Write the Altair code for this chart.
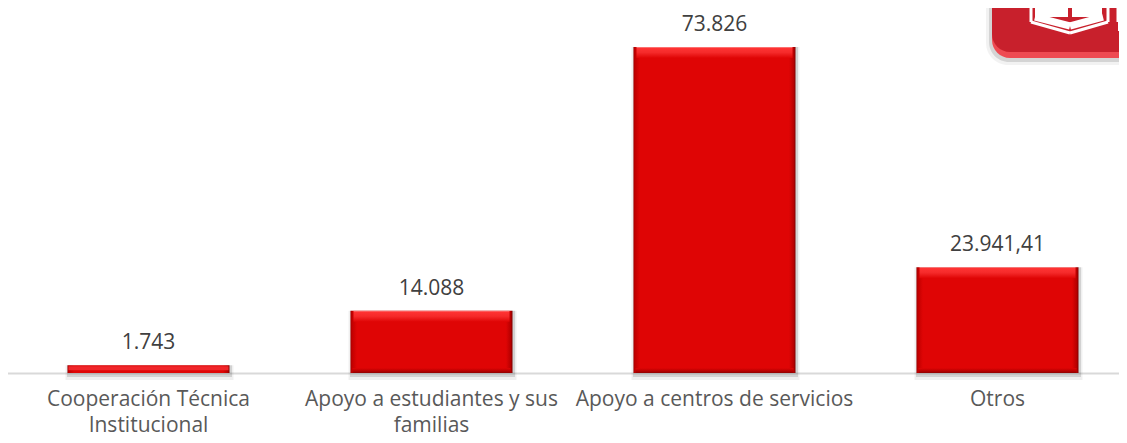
import altair as alt
import pandas as pd

categories = ["Cooperación Técnica|Institucional", "Apoyo a estudiantes y sus|familias",
              "Apoyo a centros de servicios", "Otros"]
values = [1743, 14088, 73826, 23941.41]
value_labels = ["1.743", "14.088", "73.826", "23.941,41"]

df = pd.DataFrame({"cat": categories, "v": values, "lab": value_labels})

W, H = 1111, 365
FONT = "Open Sans"
BW = 162

x = alt.X("cat:N", sort=categories, title=None,
          scale=alt.Scale(range=[-1, 1131], paddingInner=0.43, paddingOuter=0.215),
          axis=alt.Axis(labelAngle=0, labelFont=FONT, labelFontSize=21, labelColor="#595959",
                        labelPadding=15, labelLineHeight=26, labelLimit=300,
                        labelExpr="split(datum.label,'|')", ticks=False,
                        domainColor="#d9d9d9", domainWidth=2, labelOverlap=False))
y = alt.Y("v:Q", title=None, axis=None, scale=alt.Scale(domain=[0, 82660], nice=False))

big = alt.datum.v > 5000
small = alt.datum.v <= 5000


def grad(stops, vertical=True):
    return alt.LinearGradient(
        gradient="linear", x1=0, y1=0, x2=0 if vertical else 1, y2=1 if vertical else 0,
        stops=[alt.GradientStop(offset=o, color=c) for o, c in stops])


full = alt.Chart(df).encode(x=x, y=y, y2=alt.Y2(datum=0))
top = alt.Chart(df).encode(x=x, y=y, y2=alt.Y2("v:Q"))
bottom = alt.Chart(df).encode(x=x, y=alt.Y(datum=0, scale=alt.Scale(domain=[0, 82660], nice=False), axis=None, title=None),
                              y2=alt.Y2(datum=0))

shadow_far = full.mark_bar(color="#000000", opacity=0.06, width=BW + 6, xOffset=1, y2Offset=7)
shadow = full.mark_bar(color="#000000", opacity=0.12, width=BW + 3, xOffset=1, y2Offset=4)
body = full.mark_bar(width=BW, color=grad([(0, "#a80000"), (0.012, "#c40000"), (0.04, "#df0505"),
                                           (0.96, "#df0505"), (0.988, "#b80000"), (1, "#800000")], False))
bottom_bevel = bottom.transform_filter(big).mark_bar(
    width=BW - 4, yOffset=-5,
    color=grad([(0, "#df0505"), (0.6, "#b80000"), (1, "#900000")]))
top_bevel = top.transform_filter(big).mark_bar(
    width=BW - 6, y2Offset=11,
    color=grad([(0, "#f9a0a0"), (0.1, "#ff3333"), (0.5, "#f52a2a"), (1, "#df0505")]))
small_core = top.transform_filter(small).mark_bar(
    width=BW - 2, yOffset=1, y2Offset=5, color="#f0262a")
text = alt.Chart(df).encode(x=x, y=y, text="lab:N").mark_text(
    font=FONT, fontSize=21, color="#404040", baseline="bottom", dy=-12)


def box(x1, x2, y1, y2, color, **kw):
    return alt.Chart(df.head(1)).mark_bar(color=color, **kw).encode(
        x=alt.value(x1), x2=alt.value(x2), y=alt.value(y1), y2=alt.value(y2))


def seg(x1, y1, x2, y2, color="#ffffff", w=3):
    return alt.Chart(df.head(1)).mark_rule(color=color, strokeWidth=w).encode(
        x=alt.value(x1), x2=alt.value(x2), y=alt.value(y1), y2=alt.value(y2))


logo = [
    box(978, 1150, -30, 57, "#000000", opacity=0.05, cornerRadius=22),
    box(981, 1150, -30, 54, "#000000", opacity=0.12, cornerRadius=20),
    box(984, 1150, -30, 50, "#ee4a52", cornerRadius=18),
    box(984, 1150, -30, 44, "#c8202c", cornerRadius=18),
    box(1027, 1060, -8, 9, "#ffffff"),
    box(1064, 1094, -8, 9, "#ffffff"),
    seg(1023, -8, 1023, 14), seg(1023, 14, 1062, 25), seg(1062, 25, 1100, 14), seg(1100, 14, 1100, -8),
    seg(1027, 9, 1062, 18, "#ffffff", 7), seg(1062, 18, 1095, 9, "#ffffff", 7),
    seg(1111, -8, 1111, 14, "#ffffff", 5), seg(1111, 14, 1111, 23, "#ffffff", 2),
]

chart = alt.layer(shadow_far, shadow, body, bottom_bevel, top_bevel, small_core, text, *logo).properties(
    width=W, height=H,
    padding={"left": 0, "top": 0, "right": 0, "bottom": 62},
    autosize=alt.AutoSizeParams(type="none"),
).configure_view(stroke=None)

chart.save("out.html", embed_options={"renderer": "svg", "actions": False})
